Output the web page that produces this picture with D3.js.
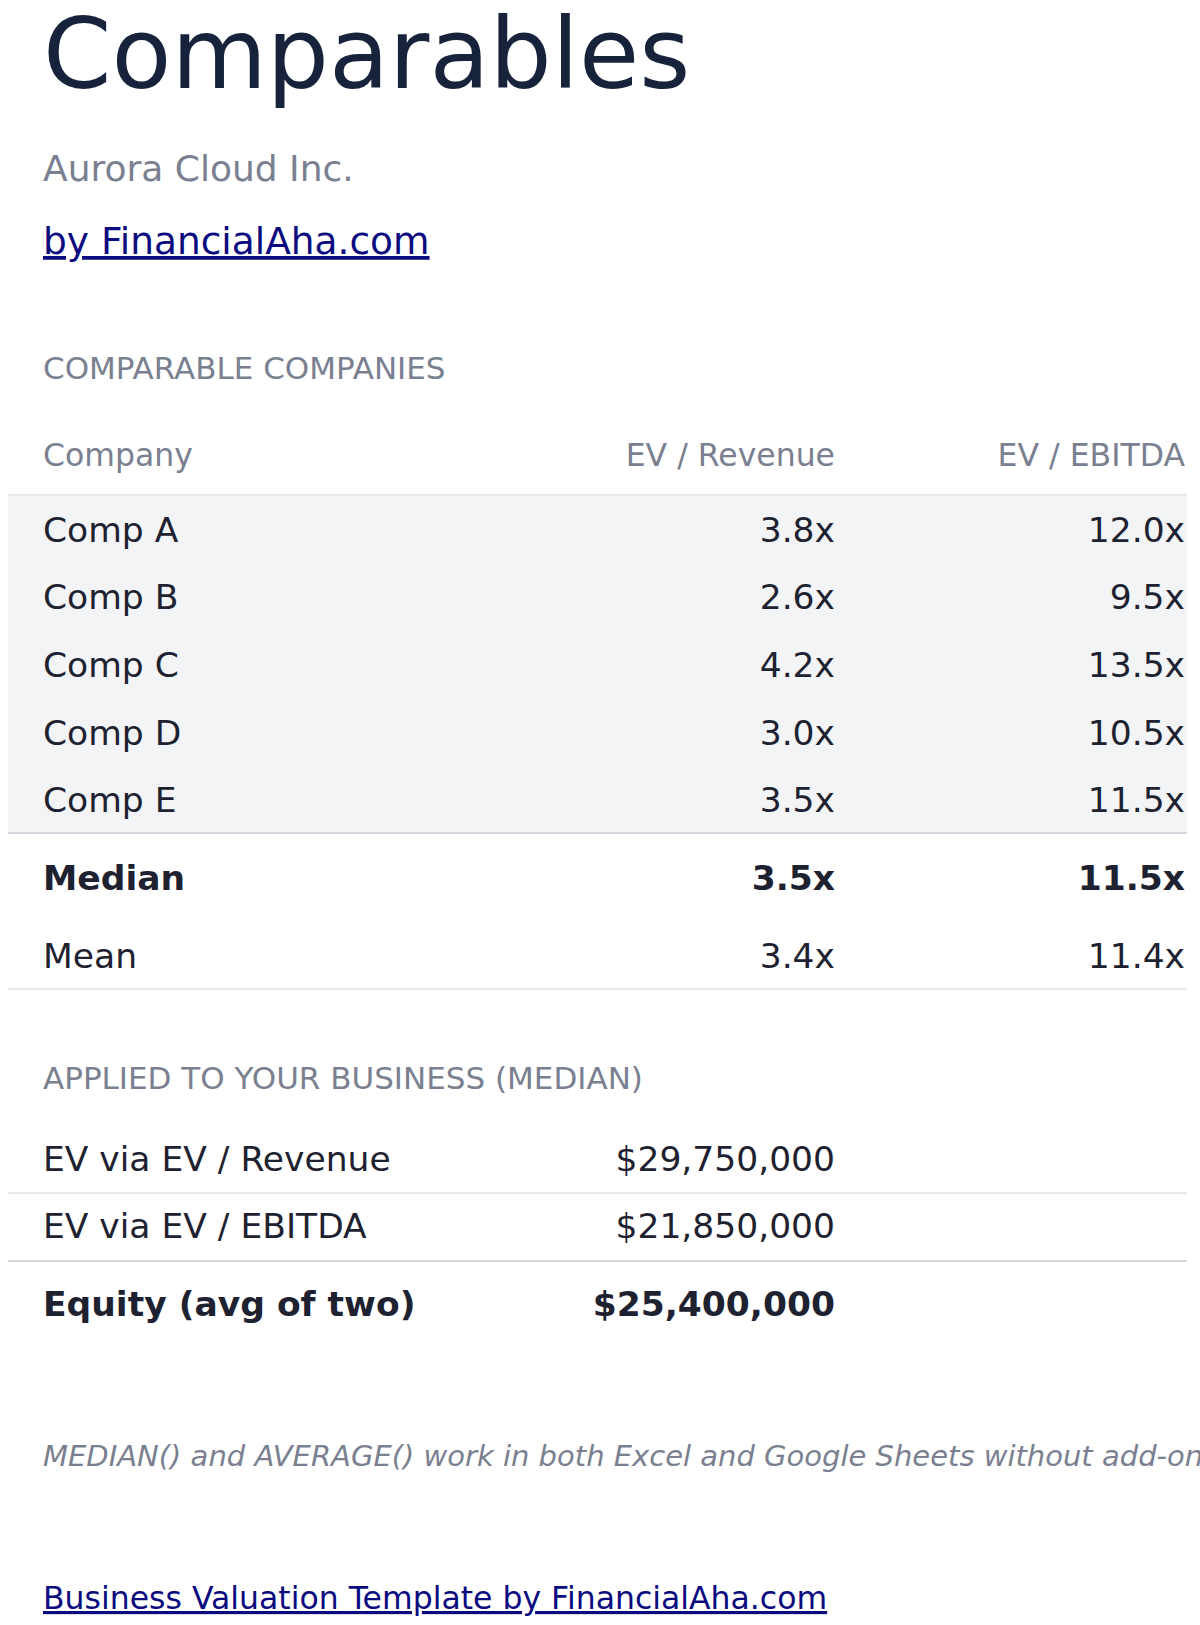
<!DOCTYPE html>
<meta charset="utf-8">
<style>
body { margin: 0; background: #fff; }
svg { display: block; font-family: "DejaVu Sans", sans-serif; }
.muted { fill: #7a8090; }
.ink { fill: #1e2230; }
.link { fill: #0b0b80; }
</style>
<body>
<svg id="chart" width="1200" height="1625"></svg>
<script src="https://cdn.jsdelivr.net/npm/d3@7"></script>
<script>
var companies = ["Comp A", "Comp B", "Comp C", "Comp D", "Comp E"];
var evRevenue = [3.8, 2.6, 4.2, 3.0, 3.5];
var evEbitda = [12.0, 9.5, 13.5, 10.5, 11.5];
var columns = ["Company", "EV / Revenue", "EV / EBITDA"];
var appliedLabels = ["EV via EV / Revenue", "EV via EV / EBITDA", "Equity (avg of two)"];
var appliedValues = [29750000, 21850000, 25400000];

var svg = d3.select("#chart");
var L = 43, C1 = 835, C2 = 1185, rowL = 8, rowR = 1187;
var fmtX = function(v) { return v.toFixed(1) + "x"; };
var fmtUsd = d3.format("$,.0f");

function text(x, y, s, size, cls, anchor, weight, style) {
  return svg.append("text").attr("x", x).attr("y", y).attr("class", cls)
    .attr("font-size", size).attr("text-anchor", anchor || "start")
    .attr("font-weight", weight || "normal").attr("font-style", style || "normal").text(s);
}
function line(y, c) {
  svg.append("line").attr("x1", rowL).attr("x2", rowR).attr("y1", y).attr("y2", y)
    .attr("stroke", c).attr("stroke-width", 2);
}

text(L, 88, "Comparables", 98, "ink").style("fill", "#17223b");
text(L, 181, "Aurora Cloud Inc.", 36, "muted");
text(L, 254, "by FinancialAha.com", 37.5, "link").attr("text-decoration", "underline");

text(L, 379, "COMPARABLE COMPANIES", 31, "muted");
text(L, 466, columns[0], 31.5, "muted");
text(C1, 466, columns[1], 31.5, "muted", "end");
text(C2, 466, columns[2], 31.5, "muted", "end");

var y = d3.scaleBand().domain(companies).range([495, 833]);
svg.append("rect").attr("x", rowL).attr("y", 495).attr("width", rowR - rowL).attr("height", 338).attr("fill", "#f3f4f6");
line(495, "#e8e9ee");
companies.forEach(function(c, i) {
  var by = y(c) + y.bandwidth() / 2 + 13;
  text(L, by, c, 34.5, "ink");
  text(C1, by, fmtX(evRevenue[i]), 34.5, "ink", "end");
  text(C2, by, fmtX(evEbitda[i]), 34.5, "ink", "end");
});
line(833, "#d5d7de");

var medR = d3.median(evRevenue), medE = d3.median(evEbitda);
text(L, 890, "Median", 34.5, "ink", "start", "bold");
text(C1, 890, fmtX(medR), 34.5, "ink", "end", "bold");
text(C2, 890, fmtX(medE), 34.5, "ink", "end", "bold");
text(L, 968, "Mean", 34.5, "ink");
text(C1, 968, fmtX(d3.mean(evRevenue)), 34.5, "ink", "end");
text(C2, 968, fmtX(d3.mean(evEbitda)), 34.5, "ink", "end");
line(989, "#e8e9ee");

text(L, 1089, "APPLIED TO YOUR BUSINESS (MEDIAN)", 31, "muted");
var ay = [1171, 1238, 1316];
appliedLabels.forEach(function(lab, i) {
  var b = i === 2 ? "bold" : "normal";
  text(L, ay[i], lab, 34.5, "ink", "start", b);
  text(C1, ay[i], fmtUsd(appliedValues[i]), 34.5, "ink", "end", b);
});
line(1193, "#e8e9ee");
line(1261, "#d5d7de");

text(L, 1466, "MEDIAN() and AVERAGE() work in both Excel and Google Sheets without add-ons.", 29, "muted", "start", "normal", "italic");
text(L, 1609, "Business Valuation Template by FinancialAha.com", 31.5, "link").attr("text-decoration", "underline");
</script>
</body>
